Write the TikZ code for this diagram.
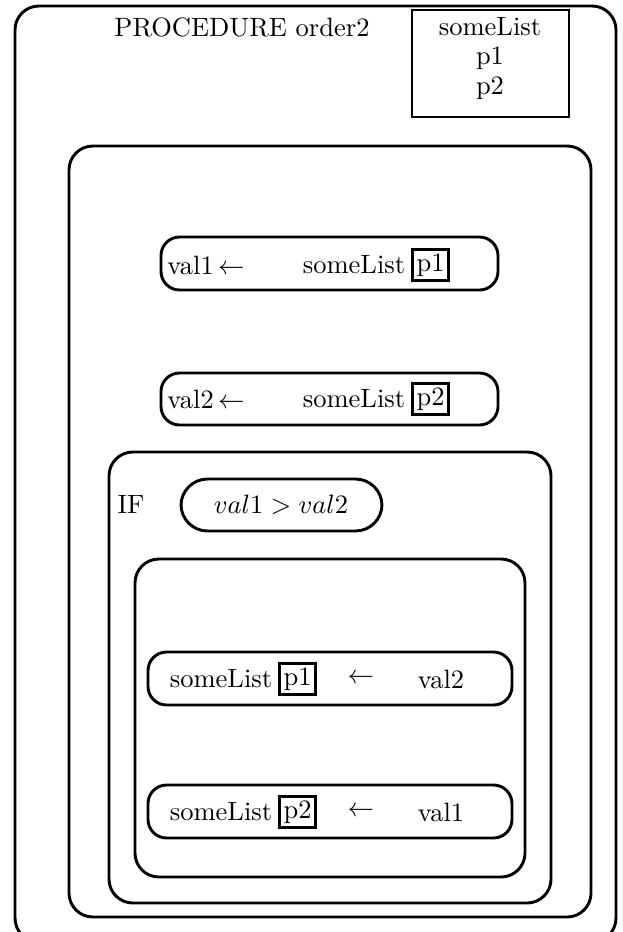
\documentclass[tikz,border=0pt]{standalone}
\usepackage{amsmath}
\usetikzlibrary{positioning}
\tikzset{
  frame/.style={line width=1.1pt,rounded corners=9pt},
  stmt/.style={line width=1.1pt,rounded corners=7pt},
  idxbox/.style={draw,line width=1.1pt,inner sep=1.6pt},
}

\begin{document}
\begin{tikzpicture}[x=0.377pt,y=-0.377pt]
\useasboundingbox (0,0) rectangle (623,932);
\clip (0,0) rectangle (623,932);
% procedure frame and parameter list
\draw[frame] (15,6) rectangle (616,942);
\draw[line width=1.1pt] (412,10) rectangle (569,117);
\node (title) at (242,27) {PROCEDURE order2};
\node (parlist) at (490,27) {someList};
\node (par1) at (490,58) {p1};
\node (par2) at (490,88) {p2};
% body
\draw[frame] (69,146) rectangle (591,917);
% val1 <- someList[p1]
\draw[stmt] (161,237) rectangle (498,290);
\node[right] (lhs1) at (158,265) {val1\,$\leftarrow$};
\node (lst1) at (354,265) {someList};
\node[idxbox,right=-1.4pt of lst1] (idx1) {p1};
% val2 <- someList[p2]
\draw[stmt] (161,373) rectangle (498,425);
\node[right] (lhs2) at (158,399) {val2\,$\leftarrow$};
\node (lst2) at (354,399) {someList};
\node[idxbox,right=-1.4pt of lst2] (idx2) {p2};
% IF block
\draw[frame] (109,452) rectangle (551,903);
\node (iflabel) at (131,504) {IF};
\draw[line width=1.1pt,rounded corners=10pt] (181,479) rectangle (382,531);
\node (cond) at (281,505) {$val1 > val2$};
\draw[frame] (135,559) rectangle (525,877);
% someList[p1] <- val2
\draw[stmt] (148,652) rectangle (512,705);
\node (lst3) at (221,679) {someList};
\node[idxbox,right=-1.4pt of lst3] (idx3) {p1};
\node (arr3) at (361,679) {$\leftarrow$};
\node (rhs3) at (441,679) {val2};
% someList[p2] <- val1
\draw[stmt] (148,785) rectangle (512,838);
\node (lst4) at (221,812) {someList};
\node[idxbox,right=-1.4pt of lst4] (idx4) {p2};
\node (arr4) at (361,812) {$\leftarrow$};
\node (rhs4) at (441,812) {val1};
\end{tikzpicture}
\end{document}
